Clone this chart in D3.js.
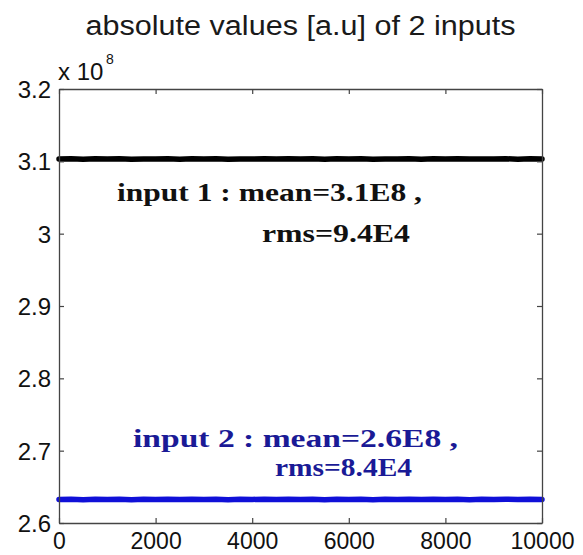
<!DOCTYPE html>
<html>
<head>
<meta charset="utf-8">
<script src="https://cdn.jsdelivr.net/npm/d3@7"></script>
<style>
  html, body { margin: 0; padding: 0; background: #fff; }
  svg { display: block; }
</style>
</head>
<body>
<svg id="chart" width="583" height="555"></svg>
<script>
// ---- data (values in units of 1e8) ----
const sampleIndex = [0, 250, 500, 750, 1000, 1250, 1500, 1750, 2000, 2250, 2500, 2750, 3000, 3250, 3500, 3750, 4000, 4250, 4500, 4750, 5000, 5250, 5500, 5750, 6000, 6250, 6500, 6750, 7000, 7250, 7500, 7750, 8000, 8250, 8500, 8750, 9000, 9250, 9500, 9750, 10000];
const input1 = [3.1032, 3.1035, 3.1030, 3.1034, 3.1031, 3.1036, 3.1030, 3.1033, 3.1032, 3.1035, 3.1030, 3.1034, 3.1032, 3.1036, 3.1029, 3.1033, 3.1032, 3.1035, 3.1031, 3.1034, 3.1032, 3.1036, 3.1030, 3.1034, 3.1032, 3.1035, 3.1030, 3.1033, 3.1031, 3.1035, 3.1030, 3.1034, 3.1032, 3.1036, 3.1031, 3.1033, 3.1032, 3.1035, 3.1030, 3.1034, 3.1032];
const input2 = [2.6326, 2.6329, 2.6323, 2.6328, 2.6325, 2.6330, 2.6323, 2.6327, 2.6326, 2.6329, 2.6324, 2.6328, 2.6325, 2.6330, 2.6322, 2.6327, 2.6326, 2.6329, 2.6324, 2.6328, 2.6325, 2.6330, 2.6323, 2.6328, 2.6326, 2.6330, 2.6323, 2.6327, 2.6325, 2.6329, 2.6324, 2.6328, 2.6326, 2.6330, 2.6323, 2.6327, 2.6325, 2.6330, 2.6324, 2.6328, 2.6326];
const xTicks = [0, 2000, 4000, 6000, 8000, 10000];
const yTicks = [2.6, 2.7, 2.8, 2.9, 3.0, 3.1, 3.2];
const yTickLabels = ["2.6", "2.7", "2.8", "2.9", "3", "3.1", "3.2"];
const titleText = "absolute values [a.u] of 2 inputs";
const note1 = ["input 1 : mean=3.1E8 ,", "rms=9.4E4"];
const note2 = ["input 2 : mean=2.6E8 ,", "rms=8.4E4"];

// ---- layout ----
const L = 59, R = 542, T = 89, B = 523;
const svg = d3.select("#chart");
const x = d3.scaleLinear().domain([0, 10000]).range([L, R]);
const y = d3.scaleLinear().domain([2.6, 3.2]).range([B, T]);
const sansFont = "'Liberation Sans', Arial, Helvetica, sans-serif";
const serifFont = "'Liberation Serif', 'Times New Roman', serif";

// title
svg.append("text")
  .attr("x", (L + R) / 2).attr("y", 35)
  .attr("text-anchor", "middle")
  .attr("font-family", sansFont).attr("font-size", 27)
  .attr("textLength", 430).attr("lengthAdjust", "spacingAndGlyphs")
  .attr("fill", "#1a1a1a")
  .text(titleText);

// series lines
const line = d3.line().x((d, i) => x(sampleIndex[i])).y(d => y(d));
svg.append("path").datum(input1)
  .attr("d", line).attr("fill", "none")
  .attr("stroke", "#000").attr("stroke-width", 5.5)
  .attr("stroke-linecap", "round").attr("stroke-linejoin", "round");
svg.append("path").datum(input2)
  .attr("d", line).attr("fill", "none")
  .attr("stroke", "#1010d8").attr("stroke-width", 5.5)
  .attr("stroke-linecap", "round").attr("stroke-linejoin", "round");

// axes (MATLAB-style: ticks inward on all four sides)
const tickLen = 5;
const gBottom = svg.append("g").attr("transform", `translate(0,${B})`)
  .call(d3.axisBottom(x).tickValues(xTicks).tickSizeInner(-tickLen).tickSizeOuter(0)
    .tickFormat(d3.format("d")));
const gTop = svg.append("g").attr("transform", `translate(0,${T})`)
  .call(d3.axisTop(x).tickValues(xTicks).tickSizeInner(-tickLen).tickSizeOuter(0).tickFormat(""));
const gLeft = svg.append("g").attr("transform", `translate(${L},0)`)
  .call(d3.axisLeft(y).tickValues(yTicks).tickSizeInner(-tickLen).tickSizeOuter(0).tickPadding(8)
    .tickFormat((d, i) => yTickLabels[i]));
const gRight = svg.append("g").attr("transform", `translate(${R},0)`)
  .call(d3.axisRight(y).tickValues(yTicks).tickSizeInner(-tickLen).tickSizeOuter(0).tickFormat(""));

[gBottom, gTop, gLeft, gRight].forEach(g => {
  g.select(".domain").attr("stroke", "#444").attr("stroke-width", 1.3);
  g.selectAll(".tick line").attr("stroke", "#444").attr("stroke-width", 1.2);
  g.selectAll("text").attr("font-family", sansFont).attr("font-size", 24).attr("fill", "#111");
});
gBottom.selectAll(".tick text").attr("font-size", 23).attr("dy", "0.71em").attr("y", 10);
gLeft.selectAll(".tick text").attr("dy", "0.35em");

// exponent label
const expG = svg.append("g");
expG.append("text").attr("x", 58).attr("y", 80)
  .attr("font-family", sansFont).attr("font-size", 24).attr("fill", "#111")
  .text("x 10");
expG.append("text").attr("x", 106).attr("y", 64)
  .attr("font-family", sansFont).attr("font-size", 14).attr("fill", "#111")
  .text("8");

// annotations
function note(lines, x1, y1, x2, y2, w1, w2, color) {
  svg.append("text").attr("x", x1).attr("y", y1)
    .attr("font-family", serifFont).attr("font-weight", "bold").attr("font-size", 26)
    .attr("textLength", w1).attr("lengthAdjust", "spacingAndGlyphs")
    .attr("fill", color).text(lines[0]);
  svg.append("text").attr("x", x2).attr("y", y2)
    .attr("font-family", serifFont).attr("font-weight", "bold").attr("font-size", 26)
    .attr("textLength", w2).attr("lengthAdjust", "spacingAndGlyphs")
    .attr("fill", color).text(lines[1]);
}
note(note1, 117, 201, 262, 242, 305, 148, "#111");
note(note2, 133, 447, 275, 476, 325, 137, "#1a1a96");
</script>
</body>
</html>
